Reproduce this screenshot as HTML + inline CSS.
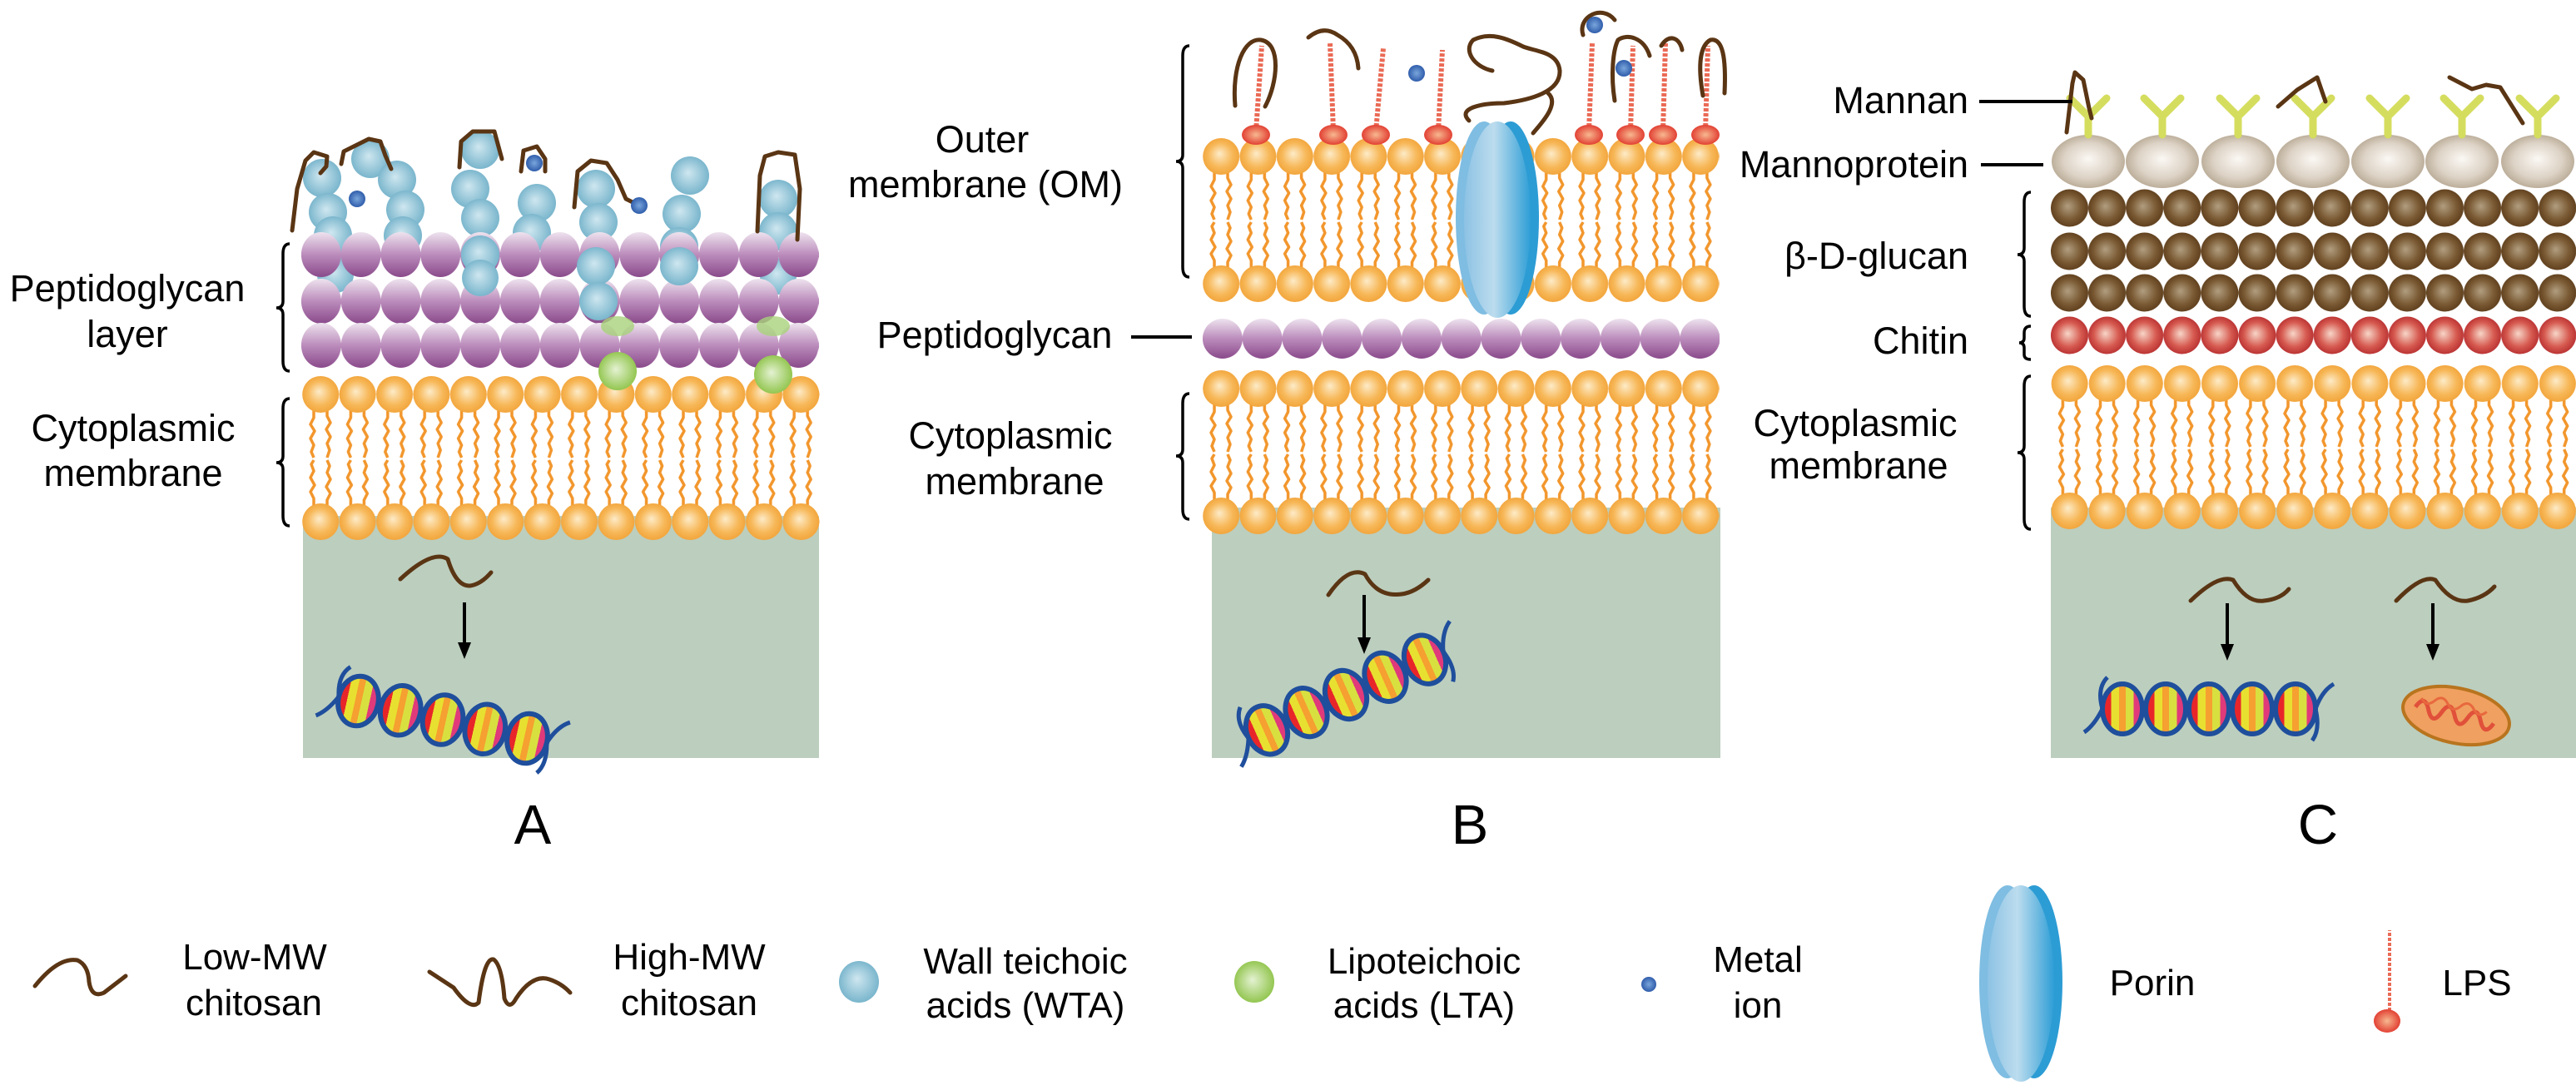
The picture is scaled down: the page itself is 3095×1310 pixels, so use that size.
<!DOCTYPE html>
<html><head><meta charset="utf-8"><style>html,body{margin:0;padding:0;background:#fff}svg{display:block}</style></head><body>
<svg xmlns="http://www.w3.org/2000/svg" xmlns:xlink="http://www.w3.org/1999/xlink" width="3095" height="1310" viewBox="0 0 3095 1310" font-family="Liberation Sans, Arial, sans-serif">
<defs>
<radialGradient id="gHead" cx="50%" cy="50%" r="55%" fx="45%" fy="42%"><stop offset="0" stop-color="#fdebc8"/><stop offset="0.6" stop-color="#f7b859"/><stop offset="1" stop-color="#f1a135"/></radialGradient>
<linearGradient id="gPurp" x1="0" y1="0" x2="0" y2="1"><stop offset="0" stop-color="#eee3ee"/><stop offset="0.5" stop-color="#bb8cbc"/><stop offset="1" stop-color="#8a4a8b"/></linearGradient>
<radialGradient id="gBlue" cx="50%" cy="50%" r="55%" fx="45%" fy="42%"><stop offset="0" stop-color="#cfe7f0"/><stop offset="1" stop-color="#72b1c9"/></radialGradient>
<radialGradient id="gGreen" cx="50%" cy="50%" r="55%" fx="45%" fy="45%"><stop offset="0" stop-color="#e4f2d2"/><stop offset="1" stop-color="#8cc245"/></radialGradient>
<radialGradient id="gIon" cx="50%" cy="50%" r="55%"><stop offset="0" stop-color="#7aa6dc"/><stop offset="1" stop-color="#2856a6"/></radialGradient>
<radialGradient id="gBrown" cx="50%" cy="50%" r="55%" fx="45%" fy="45%"><stop offset="0" stop-color="#b19e80"/><stop offset="0.6" stop-color="#7a5a34"/><stop offset="1" stop-color="#5a3a18"/></radialGradient>
<radialGradient id="gRed" cx="50%" cy="50%" r="55%" fx="45%" fy="45%"><stop offset="0" stop-color="#f7d6c8"/><stop offset="0.6" stop-color="#d65a50"/><stop offset="1" stop-color="#b42a2c"/></radialGradient>
<radialGradient id="gMp" cx="50%" cy="50%" r="55%" fx="50%" fy="45%"><stop offset="0" stop-color="#fbf8f4"/><stop offset="0.6" stop-color="#ddd3c6"/><stop offset="1" stop-color="#b3a48e"/></radialGradient>
<radialGradient id="gLps" cx="50%" cy="50%" r="55%"><stop offset="0" stop-color="#f7b890"/><stop offset="1" stop-color="#e0352a"/></radialGradient>
<linearGradient id="gPorin" x1="0" y1="0" x2="1" y2="0"><stop offset="0" stop-color="#8cc2e4"/><stop offset="0.45" stop-color="#bcdcee"/><stop offset="1" stop-color="#2e9ed6"/></linearGradient>
<linearGradient id="gStripe" x1="0" y1="0" x2="1" y2="0"><stop offset="0" stop-color="#e8262a"/><stop offset="0.22" stop-color="#e8262a"/><stop offset="0.22" stop-color="#e8e030"/><stop offset="0.42" stop-color="#e8e030"/><stop offset="0.42" stop-color="#f5a030"/><stop offset="0.58" stop-color="#f5a030"/><stop offset="0.58" stop-color="#d8e040"/><stop offset="0.78" stop-color="#d8e040"/><stop offset="0.78" stop-color="#e03a7a"/><stop offset="1" stop-color="#e03a7a"/></linearGradient>

<g id="lip">
 <g fill="none" stroke="#f2962c" stroke-width="3.5" stroke-linejoin="round">
  <polyline points="14,40 14,50 10,58 15,66 10,75 14,83 11,91 14,98"/>
  <polyline points="30,40 30,48 34,56 29,64 34,73 30,81 33,89 30,98"/>
  <polyline points="14,157 14,147 10,139 15,131 10,122 14,114 11,106 14,101"/>
  <polyline points="30,157 30,149 34,141 29,133 34,124 30,116 33,108 30,101"/>
 </g>
 <circle cx="22.2" cy="22" r="22" fill="url(#gHead)"/>
 <circle cx="22.2" cy="175" r="22" fill="url(#gHead)"/>
</g>
<pattern id="memA" patternUnits="userSpaceOnUse" width="44.4" height="197" x="363" y="0"><use xlink:href="#lip"/></pattern>
<pattern id="memB" patternUnits="userSpaceOnUse" width="44.3" height="197" x="1445" y="0"><use xlink:href="#lip"/></pattern>
<pattern id="memC" patternUnits="userSpaceOnUse" width="45.1" height="197" x="2464" y="0"><use xlink:href="#lip" transform="translate(0.4,0)"/></pattern>
<pattern id="purA" patternUnits="userSpaceOnUse" width="47.8" height="60" x="362" y="0"><ellipse cx="23.9" cy="30" rx="24" ry="27" fill="url(#gPurp)"/></pattern>
<pattern id="purB" patternUnits="userSpaceOnUse" width="47.8" height="60" x="1445" y="0"><ellipse cx="23.9" cy="30" rx="24" ry="24" fill="url(#gPurp)"/></pattern>
<pattern id="glu" patternUnits="userSpaceOnUse" width="45.1" height="60" x="2464" y="0"><circle cx="22.5" cy="30" r="22.5" fill="url(#gBrown)"/></pattern>
<pattern id="chi" patternUnits="userSpaceOnUse" width="45.1" height="60" x="2464" y="0"><circle cx="22.5" cy="30" r="22.5" fill="url(#gRed)"/></pattern>

<g id="dna">
 <g stroke="#1f4e9c" stroke-width="6" fill="url(#gStripe)">
  <ellipse cx="-104" cy="0" rx="24" ry="30"/><ellipse cx="-52" cy="0" rx="24" ry="30"/><ellipse cx="0" cy="0" rx="24" ry="30"/><ellipse cx="52" cy="0" rx="24" ry="30"/><ellipse cx="104" cy="0" rx="24" ry="30"/>
 </g>
 <path d="M-128,0 Q-135,-25 -122,-38 M-128,0 Q-138,20 -150,28 M128,0 Q136,-22 150,-30 M128,0 Q134,25 124,38" stroke="#1f4e9c" stroke-width="5" fill="none"/>
</g>
<g id="porin">
 <ellipse cx="16" cy="0" rx="34" ry="116" fill="#2c9cd4"/>
 <ellipse cx="-16" cy="0" rx="34" ry="116" fill="#7fbde2"/>
 <ellipse cx="0" cy="2" rx="40" ry="118" fill="url(#gPorin)"/>
</g>
<g id="ymn" stroke="#d5dd5e" stroke-width="9" stroke-linecap="round" fill="none">
 <path d="M0,162 L0,140 L-22,118 M0,140 L22,118"/>
</g>
</defs>

<!-- ========== PANEL A ========== -->
<rect x="364" y="620" width="620" height="291" fill="#bccebe"/>
<g fill="url(#gBlue)">
 <circle cx="387" cy="214" r="23"/><circle cx="394" cy="255" r="23"/><circle cx="400" cy="283" r="23"/>
 <circle cx="445" cy="191" r="23"/><circle cx="477" cy="216" r="23"/><circle cx="487" cy="252" r="23"/><circle cx="484" cy="283" r="23"/>
 <circle cx="577" cy="180" r="23"/><circle cx="565" cy="227" r="23"/><circle cx="577" cy="262" r="23"/>
 <circle cx="645" cy="244" r="23"/><circle cx="639" cy="280" r="23"/>
 <circle cx="716" cy="227" r="23"/><circle cx="719" cy="267" r="23"/>
 <circle cx="829" cy="211" r="23"/><circle cx="819" cy="257" r="23"/><circle cx="816" cy="296" r="23"/>
 <circle cx="935" cy="239" r="23"/><circle cx="935" cy="278" r="23"/>
 <circle cx="403" cy="330" r="22"/><circle cx="935" cy="332" r="22"/>
</g>
<g transform="translate(0,276)"><rect x="362" y="0" width="622" height="60" fill="url(#purA)"/></g>
<g transform="translate(0,332)"><rect x="362" y="0" width="622" height="60" fill="url(#purA)"/></g>
<g transform="translate(0,385)"><rect x="362" y="0" width="622" height="60" fill="url(#purA)"/></g>
<g fill="url(#gBlue)">
 <circle cx="577" cy="306" r="23"/><circle cx="577" cy="334" r="22"/>
 <circle cx="716" cy="320" r="23"/><circle cx="719" cy="362" r="23"/>
 <circle cx="816" cy="320" r="23"/>
</g>
<g transform="translate(0,452)"><rect x="363" y="0" width="622" height="197" fill="url(#memA)"/></g>
<g fill="url(#gGreen)">
 <circle cx="742" cy="446" r="23"/><circle cx="929" cy="450" r="23"/>
</g>
<ellipse cx="742" cy="392" rx="20" ry="12" fill="#a8d27a" opacity="0.8"/>
<ellipse cx="929" cy="392" rx="20" ry="12" fill="#a8d27a" opacity="0.8"/>
<g fill="none" stroke="#5a3514" stroke-width="5" stroke-linecap="round" stroke-linejoin="round">
 <polyline points="351,277 357,227 367,193 377,183 393,188 392,200 385,208"/>
 <polyline points="410,197 413,182 443,167 457,170 463,187 470,203"/>
 <polyline points="552,201 554,170 568,158 594,158 603,191"/>
 <polyline points="626,206 629,181 645,176 655,191 655,206"/>
 <polyline points="690,249 694,206 710,193 729,196 742,216 752,239 768,247"/>
 <polyline points="910,278 913,211 919,188 935,183 955,186 961,227 958,288"/>
 <path d="M481,696 Q520,660 538,672 Q548,705 565,704 Q578,702 590,688"/>
</g>
<g fill="url(#gIon)"><circle cx="429" cy="239" r="10"/><circle cx="642" cy="196" r="10"/><circle cx="768" cy="247" r="10"/></g>
<line x1="558" y1="724" x2="558" y2="775" stroke="#000" stroke-width="4"/>
<polygon points="550,772 566,772 558,792" fill="#000"/>
<use xlink:href="#dna" transform="translate(532,865) rotate(12.5)"/>

<g font-size="45" fill="#000" text-anchor="middle">
 <text x="153" y="362">Peptidoglycan</text>
 <text x="153" y="417">layer</text>
 <text x="160" y="530">Cytoplasmic</text>
 <text x="160" y="584">membrane</text>
</g>
<g fill="none" stroke="#000" stroke-width="3.5">
 <path d="M348,293 Q340,293 340,305 L340,362 Q340,370 332,370 Q340,370 340,378 L340,434 Q340,446 348,446"/>
 <path d="M348,479 Q340,479 340,491 L340,548 Q340,556 332,556 Q340,556 340,564 L340,620 Q340,632 348,632"/>
</g>
<text x="640" y="1014" font-size="67" text-anchor="middle">A</text>

<!-- ========== PANEL B ========== -->
<rect x="1456" y="610" width="611" height="301" fill="#bccebe"/>
<g transform="translate(0,166)"><rect x="1445" y="0" width="621" height="197" fill="url(#memB)"/></g>
<g transform="translate(0,377)"><rect x="1445" y="0" width="621" height="60" fill="url(#purB)"/></g>
<g transform="translate(0,445)"><rect x="1445" y="0" width="621" height="197" fill="url(#memB)"/></g>
<use xlink:href="#porin" transform="translate(1799,262)"/>
<g stroke="#ea6a55" stroke-width="6" stroke-dasharray="4 2">
 <line x1="1509" y1="158" x2="1516" y2="55"/><line x1="1602" y1="158" x2="1598" y2="52"/>
 <line x1="1653" y1="158" x2="1662" y2="58"/><line x1="1728" y1="158" x2="1733" y2="60"/>
 <line x1="1909" y1="158" x2="1913" y2="52"/><line x1="1959" y1="158" x2="1962" y2="55"/>
 <line x1="1998" y1="158" x2="2001" y2="52"/><line x1="2049" y1="158" x2="2052" y2="55"/>
</g>
<g fill="url(#gLps)">
 <ellipse cx="1509" cy="162" rx="17" ry="12"/><ellipse cx="1602" cy="162" rx="17" ry="12"/><ellipse cx="1653" cy="162" rx="17" ry="12"/><ellipse cx="1728" cy="162" rx="17" ry="12"/>
 <ellipse cx="1909" cy="162" rx="17" ry="12"/><ellipse cx="1959" cy="162" rx="17" ry="12"/><ellipse cx="1998" cy="162" rx="17" ry="12"/><ellipse cx="2049" cy="162" rx="17" ry="12"/>
</g>
<g fill="none" stroke="#5a3514" stroke-width="5" stroke-linecap="round" stroke-linejoin="round">
 <path d="M1484,127 C1480,80 1495,45 1515,48 C1540,52 1535,100 1520,128"/>
 <path d="M1572,45 Q1590,30 1607,42 Q1630,55 1632,82"/>
 <path d="M1765,145 C1750,130 1780,124 1807,124 C1840,120 1875,110 1874,85 C1872,62 1845,62 1830,56 C1810,46 1790,38 1770,48 C1758,60 1770,80 1793,85"/>
 <path d="M1860,112 C1875,125 1850,150 1842,160"/>
 <path d="M1902,42 C1895,20 1925,5 1940,24"/>
 <path d="M1940,121 C1935,90 1938,60 1944,48 C1955,40 1975,45 1982,67"/>
 <path d="M1996,55 C2005,40 2018,45 2021,60"/>
 <path d="M2046,115 C2040,80 2042,55 2055,48 C2070,45 2074,70 2072,112"/>
 <path d="M1596,715 Q1620,680 1640,690 Q1655,718 1684,714 Q1700,712 1716,697"/>
</g>
<g fill="url(#gIon)"><circle cx="1702" cy="88" r="10"/><circle cx="1916" cy="30" r="10"/><circle cx="1951" cy="82" r="10"/></g>
<line x1="1639" y1="715" x2="1639" y2="768" stroke="#000" stroke-width="4"/>
<polygon points="1631,766 1647,766 1639,786" fill="#000"/>
<use xlink:href="#dna" transform="translate(1617,835) rotate(-24)"/>
<g font-size="45" fill="#000" text-anchor="middle">
 <text x="1180" y="183">Outer</text>
 <text x="1184" y="237">membrane (OM)</text>
 <text x="1195" y="418">Peptidoglycan</text>
 <text x="1214" y="539">Cytoplasmic</text>
 <text x="1219" y="594">membrane</text>
</g>
<line x1="1359" y1="405" x2="1432" y2="405" stroke="#000" stroke-width="4"/>
<g fill="none" stroke="#000" stroke-width="3.5">
 <path d="M1429,55 Q1421,55 1421,67 L1421,186 Q1421,194 1413,194 Q1421,194 1421,202 L1421,321 Q1421,333 1429,333"/>
 <path d="M1429,473 Q1421,473 1421,485 L1421,540 Q1421,548 1413,548 Q1421,548 1421,556 L1421,612 Q1421,624 1429,624"/>
</g>
<text x="1766" y="1014" font-size="67" text-anchor="middle">B</text>

<!-- ========== PANEL C ========== -->
<rect x="2464" y="610" width="631" height="301" fill="#bccebe"/>
<g transform="translate(0,439)"><rect x="2464" y="0" width="632" height="197" fill="url(#memC)"/></g>
<g transform="translate(0,220)"><rect x="2464" y="0" width="632" height="60" fill="url(#glu)"/></g>
<g transform="translate(0,272)"><rect x="2464" y="0" width="632" height="60" fill="url(#glu)"/></g>
<g transform="translate(0,322)"><rect x="2464" y="0" width="632" height="60" fill="url(#glu)"/></g>
<g transform="translate(0,373)"><rect x="2464" y="0" width="632" height="60" fill="url(#chi)"/></g>
<g fill="url(#gMp)">
 <ellipse cx="2509" cy="194" rx="44" ry="32"/><ellipse cx="2598" cy="194" rx="44" ry="32"/><ellipse cx="2689" cy="194" rx="44" ry="32"/><ellipse cx="2779" cy="194" rx="44" ry="32"/><ellipse cx="2869" cy="194" rx="44" ry="32"/><ellipse cx="2958" cy="194" rx="44" ry="32"/><ellipse cx="3049" cy="194" rx="44" ry="32"/>
</g>
<use xlink:href="#ymn" transform="translate(2509,0)"/><use xlink:href="#ymn" transform="translate(2598,0)"/><use xlink:href="#ymn" transform="translate(2689,0)"/><use xlink:href="#ymn" transform="translate(2779,0)"/><use xlink:href="#ymn" transform="translate(2869,0)"/><use xlink:href="#ymn" transform="translate(2958,0)"/><use xlink:href="#ymn" transform="translate(3049,0)"/>
<g fill="none" stroke="#5a3514" stroke-width="5" stroke-linecap="round" stroke-linejoin="round">
 <polyline points="2483,159 2490,100 2493,87 2503,96 2510,130 2513,142"/>
 <polyline points="2737,128 2760,108 2784,93 2794,122"/>
 <polyline points="2943,93 2970,107 2987,102 3004,105 3031,148"/>
 <path d="M2632,722 Q2665,690 2683,697 Q2700,725 2720,722 Q2740,720 2750,708"/>
 <path d="M2879,722 Q2910,690 2926,697 Q2945,725 2965,722 Q2985,718 2997,705"/>
</g>
<line x1="2676" y1="725" x2="2676" y2="776" stroke="#000" stroke-width="4"/>
<polygon points="2668,774 2684,774 2676,794" fill="#000"/>
<line x1="2923" y1="725" x2="2923" y2="776" stroke="#000" stroke-width="4"/>
<polygon points="2915,774 2931,774 2923,794" fill="#000"/>
<use xlink:href="#dna" transform="translate(2654,852)"/>
<g transform="translate(2951,860) rotate(12)">
 <ellipse cx="0" cy="0" rx="65" ry="33" fill="#f0a060" stroke="#b8741e" stroke-width="4"/>
 <path d="M-50,0 q8,-18 16,0 t16,0 t16,0 t16,0 t16,0 t16,0" fill="none" stroke="#e0503a" stroke-width="5"/>
 <path d="M-45,-12 q8,10 16,0 t16,0 t16,0 t16,0 t16,0" fill="none" stroke="#e8683e" stroke-width="3"/>
</g>
<g font-size="45" fill="#000" text-anchor="end">
 <text x="2365" y="136">Mannan</text>
 <text x="2365" y="213">Mannoprotein</text>
 <text x="2365" y="323">β-D-glucan</text>
 <text x="2365" y="425">Chitin</text>
</g>
<g font-size="45" fill="#000" text-anchor="middle">
 <text x="2229" y="524">Cytoplasmic</text>
 <text x="2233" y="575">membrane</text>
</g>
<line x1="2378" y1="122" x2="2490" y2="122" stroke="#000" stroke-width="4"/>
<line x1="2380" y1="198" x2="2455" y2="198" stroke="#000" stroke-width="4"/>
<g fill="none" stroke="#000" stroke-width="3.5">
 <path d="M2440,231 Q2432,231 2432,243 L2432,298 Q2432,306 2424,306 Q2432,306 2432,314 L2432,368 Q2432,380 2440,380"/>
 <path d="M2440,392 Q2432,392 2432,400 L2432,406 Q2432,412 2426,412 Q2432,412 2432,418 L2432,426 Q2432,432 2440,432"/>
 <path d="M2440,452 Q2432,452 2432,464 L2432,536 Q2432,544 2424,544 Q2432,544 2432,552 L2432,624 Q2432,636 2440,636"/>
</g>
<text x="2785" y="1014" font-size="67" text-anchor="middle">C</text>

<!-- ========== LEGEND ========== -->
<g fill="none" stroke="#5a3514" stroke-width="5" stroke-linecap="round" stroke-linejoin="round">
 <path d="M42,1185 Q70,1150 93,1154 Q106,1160 107,1180 Q110,1200 125,1193 L151,1173"/>
 <path d="M516,1168 L545,1187 Q565,1215 575,1205 Q582,1150 593,1153 Q603,1160 606,1200 Q612,1215 620,1200 Q640,1170 660,1177 Q675,1182 685,1193"/>
</g>
<ellipse cx="1032" cy="1180" rx="24" ry="25" fill="url(#gBlue)"/>
<ellipse cx="1507" cy="1180" rx="24" ry="25" fill="url(#gGreen)"/>
<circle cx="1981" cy="1183" r="9" fill="url(#gIon)"/>
<use xlink:href="#porin" transform="translate(2428,1180)"/>
<line x1="2871" y1="1215" x2="2871" y2="1118" stroke="#ea6a55" stroke-width="4" stroke-dasharray="4 2"/>
<ellipse cx="2868" cy="1227" rx="16" ry="14" fill="url(#gLps)"/>
<g font-size="44" fill="#000" text-anchor="middle">
 <text x="306" y="1165">Low-MW</text><text x="305" y="1220">chitosan</text>
 <text x="828" y="1165">High-MW</text><text x="828" y="1220">chitosan</text>
 <text x="1232" y="1170">Wall teichoic</text><text x="1232" y="1223">acids (WTA)</text>
 <text x="1711" y="1170">Lipoteichoic</text><text x="1711" y="1223">acids (LTA)</text>
 <text x="2112" y="1168">Metal</text><text x="2112" y="1223">ion</text>
 <text x="2586" y="1196">Porin</text>
 <text x="2976" y="1196">LPS</text>
</g>
</svg>
</body></html>
